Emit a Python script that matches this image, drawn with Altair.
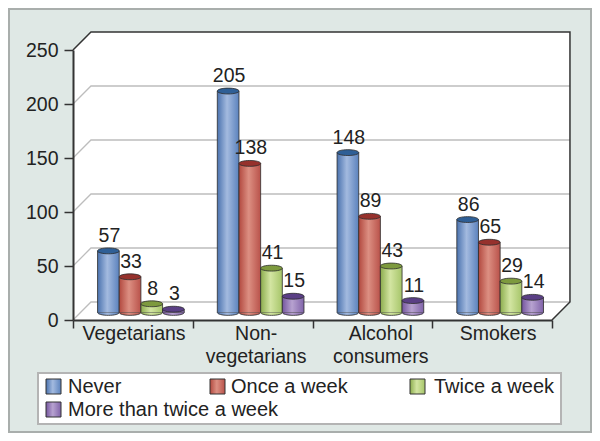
import altair as alt
import pandas as pd

categories = ["Vegetarians", "Non-\nvegetarians", "Alcohol\nconsumers", "Smokers"]
series = ["Never", "Once a week", "Twice a week", "More than twice a week"]
never = [57, 205, 148, 86]
once = [33, 138, 89, 65]
twice = [8, 41, 43, 29]
more = [3, 15, 11, 14]
y_ticks = [0, 50, 100, 150, 200, 250]

values = [never, once, twice, more]
palette = [
    ("#4a72ae", "#a3badf", "#5b82bd", "#2f5f96"),
    ("#b2493f", "#dc8f82", "#b9524a", "#96312c"),
    ("#8cad4e", "#d3e5a2", "#a6c569", "#7d9a3e"),
    ("#75569f", "#b7a2d0", "#8063a9", "#5a3f85"),
]
FONT = "Liberation Sans"
TXT = "#222222"
W, H = 479, 270
DX, DY = 0.15, 16.67      # depth of the 3-D box, in data units
BASE = 7.0                # bars stand on the floor, this far above the front edge
BAR = 0.181
GROUP = 0.205
EDGE = "#2c2c2c"
axis_color = "#333333"

xs = alt.Scale(domain=[0, 4], nice=False)
ys = alt.Scale(domain=[0, 250], nice=False)
x_axis = alt.Axis(values=[0, 1, 2, 3, 4], labels=False, grid=False, title=None, tickSize=8,
                  tickWidth=1.5, domainWidth=2, domainColor=axis_color, tickColor=axis_color,
                  zindex=1)
y_axis = alt.Axis(values=y_ticks, grid=False, title=None, tickSize=9, tickWidth=1.5, domainWidth=2,
                  domainColor=axis_color, tickColor=axis_color, labelFont=FONT,
                  labelFontSize=19.5, labelColor=TXT, labelPadding=6, zindex=1)


def XF(f):
    return alt.X(f, scale=xs, axis=x_axis)


def YF(f):
    return alt.Y(f, scale=ys, axis=y_axis)


X = XF("x:Q")
Y = YF("y:Q")


def grad(c):
    return alt.Gradient(
        gradient="linear", x1=0, x2=1, y1=0, y2=0,
        stops=[alt.GradientStop(color=c[0], offset=0),
               alt.GradientStop(color=c[1], offset=0.45),
               alt.GradientStop(color=c[2], offset=1)],
    )


# outer panel
layers = [alt.Chart(pd.DataFrame({"a": [0]})).mark_rect(
    fill="#dfe8e5", stroke="#a9aeac", strokeWidth=2).encode(
    x=alt.value(-64), x2=alt.value(518), y=alt.value(-41), y2=alt.value(382))]

# walls and floor
wall = pd.DataFrame({"x": [0, DX, 4, 4 + DX],
                     "y": [250, 250 + DY, 250 + DY, 250 + DY],
                     "y2": [0, 0, 0, DY]})
layers.append(alt.Chart(wall).mark_area(fill="white", interpolate="linear").encode(
    x=X, y=Y, y2="y2:Q"))

# gridlines
grid_rows = []
for v in y_ticks[:-1]:
    grid_rows += [{"v": v, "o": 0, "x": 0, "y": v},
                  {"v": v, "o": 1, "x": DX, "y": v + DY},
                  {"v": v, "o": 2, "x": 4 + DX, "y": v + DY}]
layers.append(alt.Chart(pd.DataFrame(grid_rows)).mark_line(
    color="#bdbdbd", strokeWidth=1.3).encode(x=X, y=Y, detail="v:N", order="o:Q"))

# dark outer edges of the box
edge = pd.DataFrame({"x": [0, DX, 4 + DX, 4 + DX, 4],
                     "y": [250, 250 + DY, 250 + DY, DY, 0],
                     "o": [0, 1, 2, 3, 4]})
layers.append(alt.Chart(edge).mark_line(color="#333333", strokeWidth=1.5).encode(
    x=X, y=Y, order="o:Q"))

# cylinders
TOP = "M-1,0 A1,0.27 0 1,1 1,0 A1,0.27 0 1,1 -1,0 Z"
BOTTOM = "M-1,0 A1,0.27 0 0,0 1,0 Z"
SIZE = 21.7 ** 2
for j, (name, vals) in enumerate(zip(series, values)):
    df = pd.DataFrame({
        "x": [i + GROUP + j * BAR for i in range(4)],
        "x2": [i + GROUP + (j + 1) * BAR for i in range(4)],
        "xc": [i + GROUP + (j + 0.5) * BAR for i in range(4)],
        "y": [v + BASE for v in vals],
        "y2": [BASE] * 4,
        "value": vals,
    })
    c = palette[j]
    base = alt.Chart(df)
    layers.append(base.mark_point(shape=BOTTOM, size=SIZE, filled=True, fill=grad(c), opacity=1,
                                  stroke=EDGE, strokeWidth=0.8).encode(
        x=XF("xc:Q"), y=YF("y2:Q")))
    layers.append(base.mark_rect(fill=grad(c)).encode(x=X, x2="x2:Q", y=Y, y2="y2:Q"))
    layers.append(base.mark_rule(color=EDGE, strokeWidth=0.8).encode(x=X, y=Y, y2="y2:Q"))
    layers.append(base.mark_rule(color=EDGE, strokeWidth=0.8).encode(
        x=XF("x2:Q"), y=Y, y2="y2:Q"))
    layers.append(base.mark_point(shape=TOP, size=SIZE, filled=True, fill=c[3], opacity=1,
                                  stroke=EDGE, strokeWidth=0.8).encode(x=XF("xc:Q"), y=Y))
    layers.append(base.mark_text(font=FONT, fontSize=19.5, color=TXT, dy=-15, dx=1).encode(
        x=XF("xc:Q"), y=Y, text="value:Q"))

# category labels
cat_df = pd.DataFrame({"x": [0.51, 1.53, 2.57, 3.55], "label": categories})
layers.append(alt.Chart(cat_df).mark_text(
    font=FONT, fontSize=19.5, color=TXT, lineBreak="\n", baseline="top", lineHeight=23).encode(
    x=XF("x:Q"), y=alt.value(275), text="label:N"))

# legend
legend_pos = [(46, 387), (210, 387), (410, 387), (46, 410)]
text_x = [68, 231, 434, 68]
layers.append(alt.Chart(pd.DataFrame({"a": [0]})).mark_rect(
    fill="white", stroke="#b4b4b4", strokeWidth=2).encode(
    x=alt.value(38 - 73), x2=alt.value(561 - 73), y=alt.value(373 - 50), y2=alt.value(424 - 50)))
for j, name in enumerate(series):
    px, py = legend_pos[j]
    one = alt.Chart(pd.DataFrame({"name": [name]}))
    layers.append(one.mark_rect(fill=grad(palette[j]), stroke="#333333", strokeWidth=1).encode(
        x=alt.value(px - 73), x2=alt.value(px + 15 - 73),
        y=alt.value(py - 8 - 50), y2=alt.value(py + 7 - 50)))
    layers.append(one.mark_text(font=FONT, fontSize=20, color=TXT, align="left").encode(
        x=alt.value(text_x[j] - 73), y=alt.value(py - 50), text="name:N"))

chart = alt.layer(*layers).properties(
    width=W, height=H,
    background="#dfe8e5",
    padding={"left": 65, "top": 42, "right": 40, "bottom": 113},
    autosize=alt.AutoSizeParams(type="none"),
).configure_view(stroke=None)

chart.save("out.html", embed_options={"renderer": "svg", "actions": False})
